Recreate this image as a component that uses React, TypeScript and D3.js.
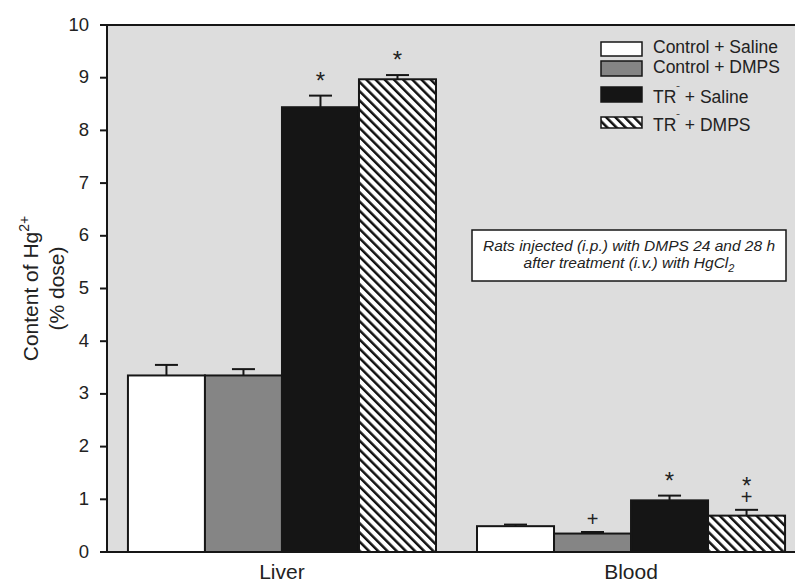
import React from "react";
import * as d3 from "d3";

const groups = ["Liver", "Blood"];
const series = ["Control + Saline", "Control + DMPS", "TR⁻ + Saline", "TR⁻ + DMPS"];
const liverMeans = [3.35, 3.35, 8.44, 8.97];
const liverErrors = [0.2, 0.12, 0.22, 0.08];
const bloodMeans = [0.49, 0.35, 0.98, 0.69];
const bloodErrors = [0.03, 0.03, 0.09, 0.11];
const liverStar = [false, false, true, true];
const liverPlus = [false, false, false, false];
const bloodStar = [false, false, true, true];
const bloodPlus = [false, true, false, true];
const yTicks = [0, 1, 2, 3, 4, 5, 6, 7, 8, 9, 10];

const W = 795;
const H = 582;
const LEFT = 107;
const RIGHT = 806;
const TOP = 25;
const BOTTOM = 552;
const FONT = "'Liberation Sans', Arial, Helvetica, sans-serif";
const BG = "#dddddd";
const INK = "#161616";
const fills = ["#ffffff", "#858585", "#151515", "url(#hatch)"];

const legendRows = [
  { top: 42, h: 14, ty: 47 },
  { top: 61, h: 15, ty: 67 },
  { top: 87, h: 15, ty: 97 },
  { top: 117, h: 11, ty: 125 },
];

function SeriesLabel({ label, x, y }: { label: string; x: number; y: number }) {
  const parts = label.split("⁻");
  return (
    <text x={x} y={y} fontSize={17.5} fontFamily={FONT} fill="#222" dominantBaseline="central">
      {parts.length > 1 ? (
        <>
          <tspan>{parts[0]}</tspan>
          <tspan fontSize={11} dy={-7}>{"ˉ"}</tspan>
          <tspan dy={7}>{parts[1]}</tspan>
        </>
      ) : (
        label
      )}
    </text>
  );
}

export default function App() {
  const y = d3.scaleLinear().domain([0, 10]).range([BOTTOM, TOP]);
  const x0 = d3.scaleBand<string>().domain(groups).range([LEFT, RIGHT]).paddingInner(0.1175).paddingOuter(0.06);
  const x1 = d3.scaleBand<string>().domain(series).range([0, x0.bandwidth()]).padding(0);

  const data = [
    { g: "Liver", means: liverMeans, errs: liverErrors, star: liverStar, plus: liverPlus },
    { g: "Blood", means: bloodMeans, errs: bloodErrors, star: bloodStar, plus: bloodPlus },
  ];

  return (
    <svg
      width={W}
      height={H}
      viewBox={`0 0 ${W} ${H}`}
      style={{ position: "absolute", left: 0, top: 0, background: "#fff" }}
    >
      <defs>
        <pattern id="hatch" patternUnits="userSpaceOnUse" width={6.5} height={6.5} patternTransform="rotate(-45)">
          <rect width={6.5} height={6.5} fill="#ffffff" />
          <line x1={0} y1={0} x2={0} y2={6.5} stroke="#111" strokeWidth={5} />
        </pattern>
      </defs>

      <rect x={LEFT} y={TOP} width={RIGHT - LEFT} height={BOTTOM - TOP} fill={BG} />

      {data.map((d) =>
        series.map((s, i) => {
          const bx = (x0(d.g) ?? 0) + (x1(s) ?? 0);
          const bw = x1.bandwidth();
          const top = y(d.means[i]);
          const capY = y(d.means[i] + d.errs[i]);
          const cx = bx + bw / 2;
          const capW = 23;
          const plusY = capY - 13;
          const starY = d.plus[i] ? capY - 30 : capY - 21;
          return (
            <g key={d.g + s}>
              <line x1={cx} x2={cx} y1={top} y2={capY} stroke={INK} strokeWidth={2} />
              <line x1={cx - capW / 2} x2={cx + capW / 2} y1={capY} y2={capY} stroke={INK} strokeWidth={2} />
              <rect x={bx} y={top} width={bw} height={BOTTOM - top} fill={fills[i]} stroke={INK} strokeWidth={2} />
              {(d.star[i] || d.plus[i]) && (
                <text fontFamily={FONT} textAnchor="middle" fill="#222">
                  {d.star[i] && (
                    <tspan x={cx} y={starY + 14} fontSize={24}>
                      *
                    </tspan>
                  )}
                  {d.plus[i] && (
                    <tspan x={cx} y={plusY + 7} fontSize={20}>
                      +
                    </tspan>
                  )}
                </text>
              )}
            </g>
          );
        })
      )}

      {/* frame */}
      <line x1={100} x2={W} y1={TOP} y2={TOP} stroke={INK} strokeWidth={2} />
      <line x1={LEFT} x2={LEFT} y1={TOP} y2={BOTTOM} stroke={INK} strokeWidth={2} />
      <line x1={100} x2={W} y1={BOTTOM} y2={BOTTOM} stroke={INK} strokeWidth={2} />

      {yTicks.map((t) => (
        <g key={t}>
          <line x1={100} x2={LEFT} y1={y(t)} y2={y(t)} stroke={INK} strokeWidth={2} />
          <text x={89} y={y(t) + 5.5} fontSize={18.5} fontFamily={FONT} textAnchor="end" fill="#222">
            {t}
          </text>
        </g>
      ))}

      {groups.map((g) => (
        <text
          key={g}
          x={(x0(g) ?? 0) + x0.bandwidth() / 2}
          y={579}
          fontSize={21}
          fontFamily={FONT}
          textAnchor="middle"
          fill="#222"
        >
          {g}
        </text>
      ))}

      {/* y label */}
      <g transform={`translate(38, ${(TOP + BOTTOM) / 2}) rotate(-90)`}>
        <text x={0} y={0} fontSize={21} fontFamily={FONT} textAnchor="middle" fill="#222">
          <tspan>Content of Hg</tspan>
          <tspan fontSize={14} dy={-9}>2+</tspan>
        </text>
      </g>
      <g transform={`translate(64, ${(TOP + BOTTOM) / 2}) rotate(-90)`}>
        <text x={0} y={0} fontSize={21} fontFamily={FONT} textAnchor="middle" fill="#222">
          (% dose)
        </text>
      </g>

      {/* legend */}
      {series.map((s, i) => (
        <g key={s}>
          <rect
            x={601}
            y={legendRows[i].top}
            width={41}
            height={legendRows[i].h}
            fill={fills[i]}
            stroke={INK}
            strokeWidth={1.5}
          />
          <SeriesLabel label={s} x={653} y={legendRows[i].ty} />
        </g>
      ))}

      {/* annotation */}
      <rect x={472} y={230} width={314} height={51} fill="#ffffff" stroke={INK} strokeWidth={1.5} />
      <text x={629} y={251} fontSize={15.5} fontStyle="italic" fontFamily={FONT} textAnchor="middle" fill="#222">
        Rats injected (i.p.) with DMPS 24 and 28 h
      </text>
      <text x={629} y={268} fontSize={15.5} fontStyle="italic" fontFamily={FONT} textAnchor="middle" fill="#222">
        <tspan>after treatment (i.v.) with HgCl</tspan>
        <tspan fontSize={11} dy={4}>2</tspan>
      </text>
    </svg>
  );
}
